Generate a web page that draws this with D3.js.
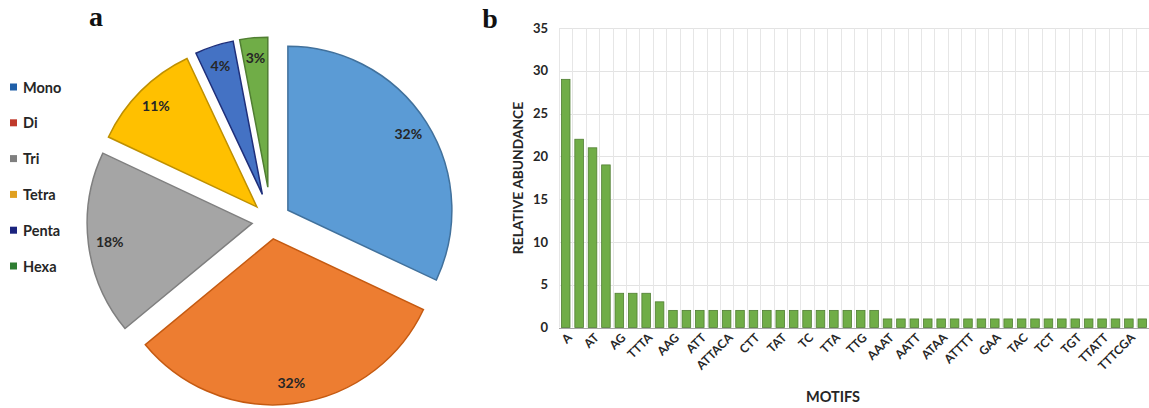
<!DOCTYPE html>
<html>
<head>
<meta charset="utf-8">
<script src="https://cdn.jsdelivr.net/npm/d3@7/dist/d3.min.js"></script>
<style>
  html, body { margin: 0; padding: 0; background: #fff; }
  svg { display: block; }
</style>
</head>
<body>
<svg id="chart" width="1149" height="408"></svg>
<script>
// ---------- Data: panel a (pie) ----------
const pieCategories = ["Mono", "Di", "Tri", "Tetra", "Penta", "Hexa"];
const piePercents = [32, 32, 18, 11, 4, 3];

// ---------- Data: panel b (bars) ----------
// only every other motif label is printed on the axis; hidden ones are left blank
const motifs = [
  "A", "", "AT", "", "AG", "", "TTTA", "", "AAG", "", "ATT", "",
  "ATTACA", "", "CTT", "", "TAT", "", "TC", "", "TTA", "", "TTG", "",
  "AAAT", "", "AATT", "", "ATAA", "", "ATTTT", "", "GAA", "", "TAC", "",
  "TCT", "", "TGT", "", "TTATT", "", "TTTCGA", ""
];
const abundance = [
  29, 22, 21, 19, 4, 4, 4, 3, 2, 2, 2, 2,
  2, 2, 2, 2, 2, 2, 2, 2, 2, 2, 2, 2,
  1, 1, 1, 1, 1, 1, 1, 1, 1, 1, 1, 1,
  1, 1, 1, 1, 1, 1, 1, 1
];
const yTicks = [0, 5, 10, 15, 20, 25, 30, 35];

// ---------- Styles ----------
const sliceFill   = ["#5b9bd5", "#ed7d31", "#a5a5a5", "#ffc000", "#4472c4", "#70ad47"];
const sliceStroke = ["#41719c", "#c55a11", "#7f7f7f", "#bf9000", "#1f2f7a", "#507e32"];
const legendFill  = ["#1f5fa8", "#c0392b", "#7f7f7f", "#e0a020", "#1a237e", "#2e7d32"];
const explode     = [20, 18, 19, 20, 28, 34];
const FONT = "Lato, 'Open Sans', 'DejaVu Sans', sans-serif";

const svg = d3.select("#chart");

// ================= Panel a: exploded pie =================
const pieCx = 271, pieCy = 221, outerBound = 184;
const pieGen = d3.pie().sort(null).value(d => d)(piePercents);

const pieG = svg.append("g").attr("transform", `translate(${pieCx},${pieCy})`);
pieG.selectAll("g.slice")
  .data(pieGen)
  .join("g")
  .attr("class", "slice")
  .each(function(d, i) {
    const mid = (d.startAngle + d.endAngle) / 2;
    const off = explode[i];
    const r = outerBound - off;
    const g = d3.select(this)
      .attr("transform", `translate(${off * Math.sin(mid)},${-off * Math.cos(mid)})`);
    g.append("path")
      .attr("d", d3.arc().innerRadius(0).outerRadius(r)(d))
      .attr("fill", sliceFill[i])
      .attr("stroke", sliceStroke[i])
      .attr("stroke-width", 1.5)
      .attr("stroke-linejoin", "miter");
    const lr = r * 0.87;
    g.append("text")
      .attr("x", lr * Math.sin(mid))
      .attr("y", -lr * Math.cos(mid))
      .attr("text-anchor", "middle")
      .attr("dominant-baseline", "central")
      .attr("font-family", FONT)
      .attr("font-weight", "bold")
      .attr("font-size", 14)
      .attr("fill", "#262626")
      .text(piePercents[i] + "%");
  });

// legend
const legG = svg.append("g");
const leg = legG.selectAll("g").data(pieCategories).join("g")
  .attr("transform", (d, i) => `translate(10,${87 + i * 35.8})`);
leg.append("rect").attr("x", 0).attr("y", -3.5).attr("width", 7).attr("height", 7)
  .attr("fill", (d, i) => legendFill[i]);
leg.append("text").attr("x", 13).attr("y", 0)
  .attr("dominant-baseline", "central")
  .attr("font-family", FONT).attr("font-weight", "bold").attr("font-size", 14.5)
  .attr("fill", "#262626")
  .text(d => d);

// panel letter
svg.append("text").attr("x", 96).attr("y", 26).attr("text-anchor", "middle")
  .attr("font-family", "'Liberation Serif', 'DejaVu Serif', serif")
  .attr("font-weight", "bold").attr("font-size", 28).attr("fill", "#111")
  .text("a");

// ================= Panel b: bar chart =================
const x = d3.scaleBand().domain(d3.range(motifs.length)).range([559, 1149]).paddingInner(0.36).paddingOuter(0.18);
const y = d3.scaleLinear().domain([0, 35]).range([327.5, 28]);
const step = x.step();
const x0 = 559, x1 = 1149;

// horizontal gridlines
svg.append("g").selectAll("line").data(yTicks.filter(t => t > 0)).join("line")
  .attr("x1", x0).attr("x2", x1)
  .attr("y1", d => Math.round(y(d)) + 0.5).attr("y2", d => Math.round(y(d)) + 0.5)
  .attr("stroke", "#e3e3e3").attr("stroke-width", 1);

// vertical gridlines (between categories)
svg.append("g").selectAll("line").data(d3.range(motifs.length + 1)).join("line")
  .attr("x1", i => Math.round(x0 + i * step) + 0.5).attr("x2", i => Math.round(x0 + i * step) + 0.5)
  .attr("y1", y(35)).attr("y2", y(0))
  .attr("stroke", "#e6e6e6").attr("stroke-width", 1);

// bars
svg.append("g").selectAll("rect").data(abundance).join("rect")
  .attr("x", (d, i) => x(i))
  .attr("width", x.bandwidth())
  .attr("y", d => y(d))
  .attr("height", d => y(0) - y(d))
  .attr("fill", "#70ad47")
  .attr("stroke", "#507e32")
  .attr("stroke-width", 0.8);

// x axis line
svg.append("line").attr("x1", x0).attr("x2", x1)
  .attr("y1", Math.round(y(0)) + 0.5).attr("y2", Math.round(y(0)) + 0.5)
  .attr("stroke", "#a6a6a6").attr("stroke-width", 1.2);

// y axis tick labels
const yAxis = d3.axisLeft(y).tickValues(yTicks).tickSize(0).tickPadding(0);
const yAxG = svg.append("g").attr("transform", "translate(548,0)").call(yAxis);
yAxG.select(".domain").remove();
yAxG.selectAll("text").attr("font-family", FONT).attr("font-weight", "bold")
  .attr("font-size", 13).attr("fill", "#262626");

// x axis tick labels (rotated)
const xAxis = d3.axisBottom(x).tickSize(0).tickFormat(i => motifs[i]);
const xAxG = svg.append("g").attr("transform", `translate(0,${y(0)})`).call(xAxis);
xAxG.select(".domain").remove();
xAxG.selectAll("text")
  .attr("font-family", FONT).attr("font-weight", "bold").attr("font-size", 12)
  .attr("fill", "#262626")
  .attr("text-anchor", "end")
  .attr("transform", "translate(4,8) rotate(-45)")
  .attr("y", 0).attr("dy", "0.35em");

// axis titles
svg.append("text").attr("transform", "translate(523,178) rotate(-90)")
  .attr("text-anchor", "middle")
  .attr("font-family", FONT).attr("font-weight", "bold").attr("font-size", 13.8)
  .attr("fill", "#262626").text("RELATIVE ABUNDANCE");

svg.append("text").attr("x", 833).attr("y", 402).attr("text-anchor", "middle")
  .attr("font-family", FONT).attr("font-weight", "bold").attr("font-size", 14.5)
  .attr("fill", "#262626").text("MOTIFS");

svg.append("text").attr("x", 490).attr("y", 28).attr("text-anchor", "middle")
  .attr("font-family", "'Liberation Serif', 'DejaVu Serif', serif")
  .attr("font-weight", "bold").attr("font-size", 28).attr("fill", "#111")
  .text("b");
</script>
</body>
</html>
